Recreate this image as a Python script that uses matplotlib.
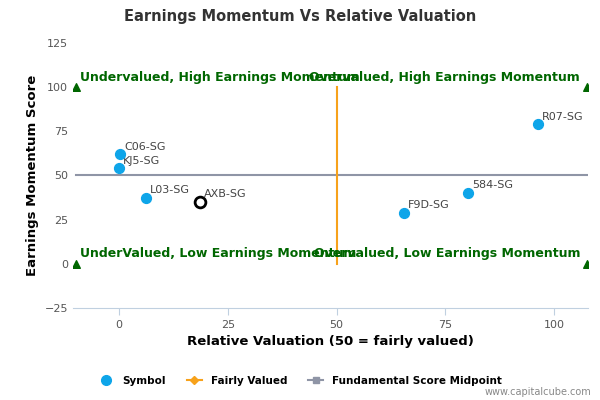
import matplotlib
matplotlib.use("Agg")
import matplotlib.pyplot as plt
from matplotlib.lines import Line2D

symbols = ["R07-SG", "C06-SG", "KJ5-SG", "L03-SG", "F9D-SG", "584-SG"]
xv = [96.3, 0.2, 0.0, 6.2, 65.5, 80.2]
yv = [79, 62, 54, 37.5, 29, 40.3]
axb_x, axb_y = 18.6, 35.2
xticks = [0, 25, 50, 75, 100]
yticks = [-25, 0, 25, 50, 75, 100, 125]

fig = plt.figure(figsize=(6, 4), dpi=100)
ax = fig.add_axes([73/600, 1-308/400, 515/600, 265/400])
ax.set_xlim(-10.6, 107.8)
ax.set_ylim(-25, 125)
for s in ["top", "right", "left"]:
    ax.spines[s].set_visible(False)
ax.spines["bottom"].set_color("#c0d0e0")
ax.set_xticks(xticks)
ax.set_yticks(yticks)
ax.tick_params(labelsize=8, colors="#555555", length=0)
ax.tick_params(axis="x", length=5, color="#c0d0e0")

ax.plot([-10, 107.8], [50, 50], color="#8f95a6", lw=1.5)
ax.plot([50, 50], [0, 100], color="#f7a21b", lw=1.5)
ax.scatter([-10, 107.5, -10, 107.5], [100, 100, 0, 0], marker="^", color="#006600", s=30, zorder=3)
ax.scatter(xv, yv, color="#0ea5e9", s=50, zorder=4)
ax.scatter([axb_x], [axb_y], facecolor="white", edgecolor="black", s=60, lw=2, zorder=5)
for x, y, s in zip(xv, yv, symbols):
    ax.annotate(s, (x, y), xytext=(3, 3), textcoords="offset points", fontsize=8, color="#444444")
ax.annotate("AXB-SG", (axb_x, axb_y), xytext=(3, 3), textcoords="offset points", fontsize=8, color="#444444")

kw = dict(color="#006600", fontsize=9, fontweight="bold")
ax.text(-9, 102, "Undervalued, High Earnings Momentum", ha="left", va="bottom", **kw)
ax.text(106, 102, "Overvalued, High Earnings Momentum", ha="right", va="bottom", **kw)
ax.text(-9, 2, "UnderValued, Low Earnings Momentum", ha="left", va="bottom", **kw)
ax.text(106, 2, "Overvalued, Low Earnings Momentum", ha="right", va="bottom", **kw)

ax.set_xlabel("Relative Valuation (50 = fairly valued)", fontsize=9.5, fontweight="bold")
ax.set_ylabel("Earnings Momentum Score", fontsize=9.5, fontweight="bold")
fig.text(0.5, 1-16/400, "Earnings Momentum Vs Relative Valuation", ha="center", va="center",
         fontsize=10.5, fontweight="bold", color="#333333")

handles = [Line2D([], [], marker="o", ls="", color="#0ea5e9", ms=7),
           Line2D([], [], marker="D", color="#f7a21b", ms=4),
           Line2D([], [], marker="s", color="#8f95a6", ms=5)]
fig.legend(handles, ["Symbol", "Fairly Valued", "Fundamental Score Midpoint"], loc="center",
           bbox_to_anchor=(0.5, 1-381/400), ncol=3, frameon=False, prop={"size": 7.5, "weight": "bold"},
           handlelength=1.5, columnspacing=2)
fig.text(0.985, 1-392/400, "www.capitalcube.com", ha="right", va="center", fontsize=7, color="#888888")
fig.savefig("out.png", dpi=100)
